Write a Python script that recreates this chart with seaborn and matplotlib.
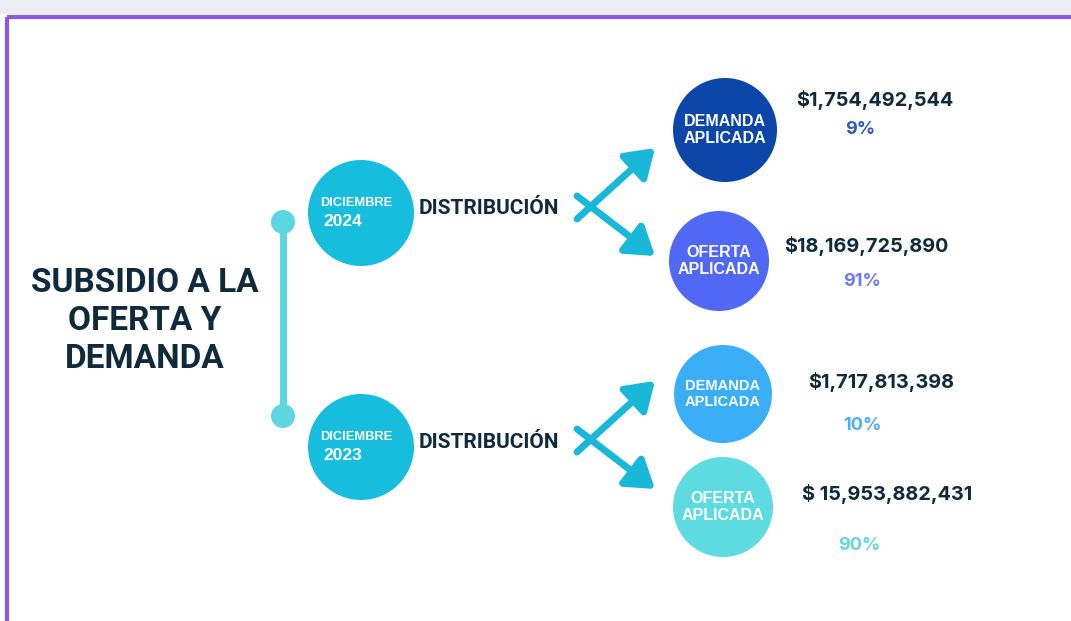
import matplotlib
matplotlib.use("Agg")
import matplotlib.pyplot as plt
import seaborn as sns
from matplotlib.patches import Circle, Rectangle

# data
titulo = ["SUBSIDIO A LA", "OFERTA Y", "DEMANDA"]
periodos = ["DICIEMBRE", "DICIEMBRE"]
anios = ["2024", "2023"]
tipos = ["DEMANDA\nAPLICADA", "OFERTA\nAPLICADA", "DEMANDA\nAPLICADA", "OFERTA\nAPLICADA"]
montos = ["$1,754,492,544", "$18,169,725,890", "$1,717,813,398", "$ 15,953,882,431"]
porcentajes = [9, 91, 10, 90]

# colours
dark = "#0e2a3b"
circle_colors = ["#0b46a8", "#5068f4", "#3aaef6", "#5ddbe0"]
pct_colors = ["#2e5db5", "#6a7cf0", "#4db0ec", "#63d6df"]
date_color = "#17bddd"
arrow_color = "#1ab8d8"
line_color = "#5cd6e0"

# layout (pixel coordinates)
W, H = 1071, 621
date_xy = [(361, 213), (361, 447)]
dist_xy = [(489, 209), (489, 442)]
node_xy = [(725, 130), (719, 261), (723, 394), (723, 507)]
node_r = [52, 50, 49, 50]
label_size = [11.5, 11.5, 10.5, 11.5]
monto_xy = [(875, 100), (866, 246), (881, 382), (887, 494)]
pct_xy = [(860, 129), (862, 282), (862, 425), (859, 546)]

sns.set_theme(style="white")
plt.rcParams["font.family"] = ["Roboto", "DejaVu Sans"]

fig = plt.figure(figsize=(W / 100, H / 100), dpi=100)
ax = fig.add_axes([0, 0, 1, 1])
ax.set_xlim(0, W)
ax.set_ylim(H, 0)
ax.axis("off")

# frame
ax.add_patch(Rectangle((0, 0), W, 14, color="#ececf3", lw=0))
ax.plot([7, W], [17, 17], color="#8a5ae6", lw=3, solid_capstyle="butt")
ax.plot([7, 7], [17, H], color="#8a5ae6", lw=3, solid_capstyle="butt")

# title
for i, line in enumerate(titulo):
    ax.text(145, 283 + i * 38, line, ha="center", va="center",
            fontsize=24, fontweight="bold", color=dark, family="Roboto")

# timeline
ax.plot([283, 283], [222, 416], color=line_color, lw=5, solid_capstyle="round")
for y in (222, 416):
    ax.add_patch(Circle((283, y), 12, color=line_color, lw=0))

# date circles + distribution text + arrows
for i, (cx, cy) in enumerate(date_xy):
    ax.add_patch(Circle((cx, cy), 53, color=date_color, lw=0))
    ax.text(cx - 41, cy - 10, periodos[i], ha="left", va="center", fontsize=9.3,
            fontweight="bold", color="white", family="Liberation Sans")
    ax.text(cx - 38, cy + 9, anios[i], ha="left", va="center", fontsize=12.5,
            fontweight="bold", color="white", family="Liberation Sans")
    dx, dy = dist_xy[i]
    ax.text(dx, dy, "DISTRIBUCIÓN", ha="center", va="center", fontsize=15,
            fontweight="bold", color=dark, family="Roboto")
    base_y = dy - 3
    for tail, tip in (((577, base_y + 13), (655, base_y - 58)),
                      ((577, base_y - 10), (655, base_y + 50))):
        ax.annotate("", xy=tip, xytext=tail,
                    arrowprops=dict(arrowstyle="-|>,head_width=0.5,head_length=0.75",
                                    lw=5, color=arrow_color, mutation_scale=22,
                                    shrinkA=0, shrinkB=0, capstyle="round"))

# result circles
for i, (cx, cy) in enumerate(node_xy):
    ax.add_patch(Circle((cx, cy), node_r[i], color=circle_colors[i], lw=0))
    ax.text(cx, cy, tipos[i], ha="center", va="center", fontsize=label_size[i],
            fontweight="bold", color="white", family="Liberation Sans",
            linespacing=1.1)
    mx, my = monto_xy[i]
    ax.text(mx, my, montos[i], ha="center", va="center", fontsize=14.3,
            fontweight="bold", color=dark, family="Inter")
    px, py = pct_xy[i]
    ax.text(px, py, f"{porcentajes[i]}%", ha="center", va="center", fontsize=13,
            fontweight="bold", color=pct_colors[i], family="Inter")

fig.savefig("out.png", dpi=100, facecolor="white")
